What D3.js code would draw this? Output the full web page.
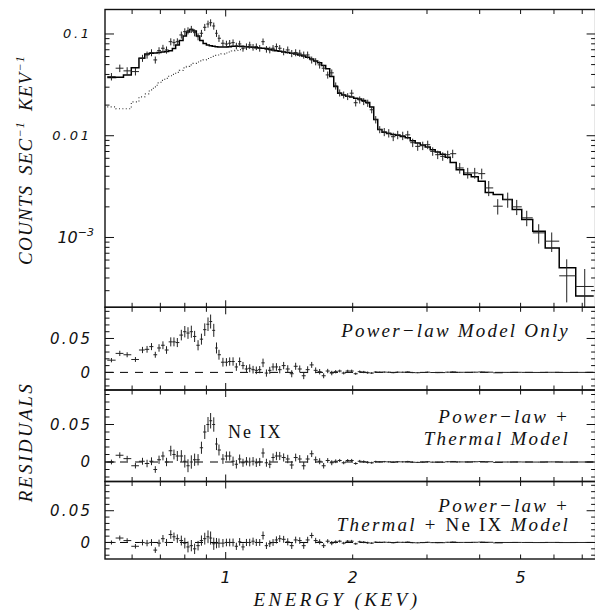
<!DOCTYPE html>
<html>
<head>
<meta charset="utf-8">
<script src="https://cdn.jsdelivr.net/npm/d3@7"></script>
<style>
  html, body { margin: 0; padding: 0; background: #fff; }
  svg { display: block; }
</style>
</head>
<body>
<svg id="chart" width="595" height="610"></svg>
<script>
// ---- spectrum: bin centre energies (keV) ----
const energy = [
  0.536,0.561,0.584,0.611,0.635,0.651,0.667,0.681,0.695,0.710,
  0.724,0.741,0.754,0.768,0.785,0.800,0.814,0.829,0.844,0.860,
  0.876,0.892,0.908,0.921,0.937,0.951,0.964,0.985,1.004,1.022,
  1.041,1.060,1.079,1.099,1.120,1.140,1.161,1.182,1.204,1.226,
  1.249,1.272,1.295,1.319,1.343,1.372,1.403,1.434,1.465,1.498,
  1.531,1.564,1.599,1.634,1.670,1.707,1.745,1.784,1.823,1.863,
  1.904,1.946,1.989,2.033,2.078,2.124,2.171,2.219,2.268,2.318,
  2.376,2.435,2.495,2.557,2.628,2.701,2.775,2.852,2.931,3.012,
  3.095,3.181,3.269,3.359,3.452,3.587,3.747,3.893,4.045,4.202,
  4.414,4.661,4.896,5.171,5.520,5.926,6.432,7.096
];

// observed count rate (counts s^-1 keV^-1)
const counts = [
  0.0381,0.0461,0.0434,0.0427,0.0578,0.0622,0.0656,0.0556,0.0686,0.0724,
  0.0697,0.0840,0.0822,0.0840,0.0978,0.1053,0.1077,0.1112,0.1030,0.0941,
  0.1016,0.1163,0.1253,0.1291,0.1198,0.1016,0.0908,0.0811,0.0798,0.0811,
  0.0822,0.0763,0.0798,0.0724,0.0751,0.0780,0.0741,0.0751,0.0724,0.0840,
  0.0708,0.0697,0.0724,0.0751,0.0724,0.0671,0.0697,0.0644,0.0656,0.0647,
  0.0622,0.0622,0.0556,0.0535,0.0497,0.0461,0.0396,0.0415,0.0309,0.0264,
  0.0252,0.0243,0.0262,0.0211,0.0225,0.0217,0.0209,0.0180,0.0144,0.0115,
  0.0109,0.0106,0.00978,0.0102,0.0100,0.0102,0.00854,0.00786,0.00798,0.00816,
  0.00702,0.00651,0.00627,0.00651,0.00666,0.00482,0.00431,0.00431,0.00424,0.00307,
  0.00203,0.00236,0.00200,0.00156,0.00111,0.00092,0.00042,0.00033
];

// 1-sigma errors on the count rate
const countErr = [
  0.0032,0.0039,0.0037,0.0036,0.0046,0.0050,0.0052,0.0044,0.0055,0.0058,
  0.0056,0.0067,0.0066,0.0067,0.0078,0.0084,0.0086,0.0089,0.0082,0.0075,
  0.0081,0.0093,0.0100,0.0103,0.0096,0.0081,0.0073,0.0065,0.0060,0.0061,
  0.0062,0.0057,0.0060,0.0054,0.0056,0.0059,0.0056,0.0056,0.0054,0.0063,
  0.0053,0.0052,0.0054,0.0056,0.0054,0.0054,0.0056,0.0052,0.0052,0.0052,
  0.0050,0.0050,0.0044,0.0043,0.0040,0.0037,0.0032,0.0033,0.0025,0.0021,
  0.0020,0.0019,0.0021,0.0017,0.0018,0.0017,0.0017,0.0014,0.0012,0.00092,
  0.0010,0.0010,0.00093,0.00097,0.00095,0.00097,0.00081,0.00075,0.00076,0.00078,
  0.00067,0.00062,0.00060,0.00062,0.00063,0.00058,0.00052,0.00052,0.00051,0.00052,
  0.00035,0.00040,0.00034,0.00027,0.00024,0.00020,0.00019,0.00016
];

// folded power-law + thermal model, per bin
const modelThermal = [
  0.0373,0.0375,0.0396,0.0467,0.0578,0.0637,0.0647,0.0651,0.0659,0.0666,
  0.0671,0.0686,0.0721,0.0780,0.0864,0.0956,0.1046,0.1107,0.1070,0.0956,
  0.0864,0.0807,0.0780,0.0768,0.0758,0.0751,0.0746,0.0746,0.0746,0.0751,
  0.0758,0.0758,0.0758,0.0754,0.0751,0.0746,0.0741,0.0734,0.0729,0.0724,
  0.0718,0.0708,0.0697,0.0686,0.0677,0.0666,0.0656,0.0647,0.0637,0.0622,
  0.0609,0.0591,0.0569,0.0544,0.0520,0.0489,0.0454,0.0381,0.0304,0.0262,
  0.0251,0.0245,0.0240,0.0234,0.0229,0.0222,0.0212,0.0192,0.0144,0.0115,
  0.0108,0.0105,0.0103,0.0101,0.00984,0.00956,0.00893,0.00848,0.00811,0.00775,
  0.00729,0.00692,0.00656,0.00613,0.00547,0.00464,0.00415,0.00396,0.00356,0.00276,
  0.00264,0.00236,0.00188,0.00150,0.00115,0.00079,0.000505,0.000266
];

// power-law component alone (low-energy bins, where it departs from the full model)
const modelPowerLaw = [
  0.0192,0.0184,0.0184,0.0215,0.0241,0.0258,0.0282,0.0302,0.0331,0.0350,
  0.0366,0.0388,0.0401,0.0419,0.0439,0.0464,0.0480,0.0497,0.0514,0.0531,
  0.0544,0.0556,0.0575,0.0588,0.0602,0.0616,0.0622,0.0637,0.0651,0.0666,
  0.0681,0.0692,0.0702,0.0713,0.0721,0.0726,0.0729,0.0732
];

// residuals (data - model) for the three fits
const resPowerLaw = [
  0.018,0.028,0.026,0.019,0.033,0.034,0.038,0.026,0.036,0.040,
  0.033,0.045,0.045,0.044,0.055,0.060,0.058,0.060,0.053,0.040,
  0.049,0.063,0.071,0.075,0.062,0.036,0.026,0.015,0.015,0.016,
  0.016,0.008,0.016,0.010,0.005,0.006,0.004,0.003,0.004,0.014,
  -0.001,0.003,0.008,0.008,0.004,0.010,0.005,-0.002,0.009,0.005,
  -0.005,0.004,0.011,0.003,0.001,-0.005,0.002,-0.001,0.001,0.002,
  -0.001,0.002,0.002,-0.002,0.001,0.0005,-0.0005,-0.001,0.0005,0.0003,
  0.0004,0.0002,-0.0004,0.0003,0.0002,0.0006,-0.0003,-0.0005,-0.0002,0.0003,
  -0.0002,-0.0004,-0.0003,0.0003,0.0007,0.0001,0.0001,0.0003,0.0006,0.0003,
  -0.0006,0.0000,0.0001,0.0000,-0.0001,0.0001,-0.0001,0.0000
];
const resThermal = [
  0.000,0.009,0.0045,-0.005,0.001,-0.002,0.001,-0.010,0.003,0.008,
  0.000,0.015,0.010,0.008,0.008,0.001,-0.005,0.000,0.003,0.003,
  0.019,0.040,0.050,0.055,0.050,0.024,0.016,0.004,0.008,0.008,
  0.001,-0.003,0.004,-0.001,0.001,0.000,0.001,-0.001,0.000,0.012,
  -0.001,-0.003,0.006,0.008,0.008,0.006,0.004,-0.004,0.006,0.004,
  -0.005,0.004,0.011,0.003,0.001,-0.005,0.002,-0.001,0.001,0.002,
  -0.001,0.002,0.002,-0.002,0.001,0.0005,-0.0005,-0.001,0.0005,0.0003,
  0.0004,0.0002,-0.0004,0.0003,0.0002,0.0006,-0.0003,-0.0005,-0.0002,0.0003,
  -0.0002,-0.0004,-0.0003,0.0003,0.0007,0.0001,0.0001,0.0003,0.0006,0.0003,
  -0.0006,0.0000,0.0001,0.0000,-0.0001,0.0001,-0.0001,0.0000
];
const resNeIX = [
  0.000,0.007,0.003,-0.006,0.000,-0.001,0.000,-0.012,-0.001,0.006,
  0.000,0.0125,0.009,0.006,0.003,-0.001,-0.007,-0.005,-0.010,-0.005,
  0.003,0.006,0.009,0.007,-0.002,-0.001,-0.001,-0.001,0.000,0.000,
  0.000,-0.006,0.001,-0.007,0.000,0.000,0.002,0.000,0.000,0.011,
  -0.005,-0.002,0.000,0.004,0.006,0.005,0.001,-0.005,0.004,0.003,
  -0.005,0.004,0.011,0.003,0.001,-0.005,0.002,-0.001,0.001,0.002,
  -0.001,0.002,0.002,-0.002,0.001,0.0005,-0.0005,-0.001,0.0005,0.0003,
  0.0004,0.0002,-0.0004,0.0003,0.0002,0.0006,-0.0003,-0.0005,-0.0002,0.0003,
  -0.0002,-0.0004,-0.0003,0.0003,0.0007,0.0001,0.0001,0.0003,0.0006,0.0003,
  -0.0006,0.0000,0.0001,0.0000,-0.0001,0.0001,-0.0001,0.0000
];

// ---- axis ticks and labels ----
const energyTicks = [1, 2, 5];
const energyTickLabels = ["1", "2", "5"];
const energyMinorTicks = [0.6, 0.7, 0.8, 0.9, 2, 3, 4, 5, 6, 7];
const countTicks = [0.1, 0.01, 0.001];
const countTickLabels = ["0.1", "0.01", "10^−3"];
const residualTicks = [0, 0.05];
const residualTickLabels = ["0", "0.05"];
const residualMinorTicks = [-0.02, -0.01, 0.01, 0.02, 0.03, 0.04, 0.06, 0.07, 0.08, 0.09];

// ---- layout ----
const L = 105, R = 595.6;
const svg = d3.select("#chart");
const x = d3.scaleLog().domain([0.5175, 7.53]).range([L, R]);
const topBox = { top: 9.5, bottom: 307.3 };
const yCounts = d3.scaleLog().domain([2.06e-4, 0.174]).range([topBox.bottom, topBox.top]);

const panels = [
  { top: 307.3, bottom: 390, res: resPowerLaw },
  { top: 390, bottom: 481.5, res: resThermal },
  { top: 481.5, bottom: 559, res: resNeIX }
];
panels.forEach(p => {
  p.y = d3.scaleLinear().domain([-0.026, 0.096]).range([p.bottom, p.top]);
});

// bin edges: geometric midpoints between neighbouring bin centres
const n = energy.length;
const lo = energy.map((e, i) => i === 0 ? e * Math.sqrt(e / energy[1]) : Math.sqrt(energy[i - 1] * e));
const hi = energy.map((e, i) => i === n - 1 ? e * Math.sqrt(e / energy[n - 2]) : Math.sqrt(e * energy[i + 1]));

const defs = svg.append("defs");
function clip(id, top, bottom) {
  defs.append("clipPath").attr("id", id)
    .append("rect").attr("x", L).attr("y", top).attr("width", R - L).attr("height", bottom - top);
  return "url(#" + id + ")";
}

const stepPoints = vals => vals.flatMap((v, i) => [[lo[i], v], [hi[i], v]]);
const stepLine = yScale => d3.line().x(d => x(d[0])).y(d => yScale(d[1]));

// ---- top panel: spectrum ----
const gTop = svg.append("g").attr("clip-path", clip("clipTop", topBox.top, topBox.bottom));

gTop.append("path")
  .attr("d", stepLine(yCounts)(stepPoints(modelPowerLaw)))
  .attr("fill", "none").attr("stroke", "#333").attr("stroke-width", 1.1)
  .attr("stroke-dasharray", "1 2.4");

gTop.append("path")
  .attr("d", stepLine(yCounts)(stepPoints(modelThermal)))
  .attr("fill", "none").attr("stroke", "#000").attr("stroke-width", 1.5);

const crossTop = gTop.append("g").attr("stroke", "#222").attr("stroke-width", 1);
energy.forEach((e, i) => {
  const c = counts[i], s = countErr[i];
  crossTop.append("line").attr("x1", x(lo[i])).attr("x2", x(hi[i]))
    .attr("y1", yCounts(c)).attr("y2", yCounts(c));
  crossTop.append("line").attr("x1", x(e)).attr("x2", x(e))
    .attr("y1", yCounts(c - s)).attr("y2", yCounts(c + s));
});

// ---- residual panels ----
panels.forEach((p, k) => {
  const g = svg.append("g").attr("clip-path", clip("clipRes" + k, p.top, p.bottom));
  g.append("line").attr("x1", L).attr("x2", R).attr("y1", p.y(0)).attr("y2", p.y(0))
    .attr("stroke", "#000").attr("stroke-width", 1).attr("stroke-dasharray", "8 7");
  const gc = g.append("g").attr("stroke", "#222").attr("stroke-width", 1);
  energy.forEach((e, i) => {
    const r = p.res[i], s = countErr[i];
    gc.append("line").attr("x1", x(lo[i])).attr("x2", x(hi[i]))
      .attr("y1", p.y(r)).attr("y2", p.y(r));
    gc.append("line").attr("x1", x(e)).attr("x2", x(e))
      .attr("y1", p.y(r - s)).attr("y2", p.y(r + s));
  });
});

// ---- frames and ticks ----
function frame(top, bottom, yScale, majors, minors) {
  const g = svg.append("g").attr("stroke", "#111").attr("fill", "none");
  g.append("rect").attr("x", L).attr("y", top).attr("width", R - L).attr("height", bottom - top)
    .attr("stroke-width", 1.4);
  const xt = [1].concat(energyMinorTicks.filter(t => t !== 1));
  xt.forEach(t => {
    const len = t === 1 ? 7 : 4.5, xx = x(t);
    g.append("line").attr("x1", xx).attr("x2", xx).attr("y1", top).attr("y2", top + len);
    g.append("line").attr("x1", xx).attr("x2", xx).attr("y1", bottom).attr("y2", bottom - len);
  });
  const yTick = (v, len) => {
    const yy = yScale(v);
    g.append("line").attr("x1", L).attr("x2", L + len).attr("y1", yy).attr("y2", yy);
    g.append("line").attr("x1", R).attr("x2", R - len).attr("y1", yy).attr("y2", yy);
  };
  majors.forEach(v => yTick(v, 9));
  minors.forEach(v => yTick(v, 4.5));
}

const countMinor = [];
[1e-4, 1e-3, 1e-2, 1e-1].forEach(d => {
  for (let m = 2; m <= 9; m++) {
    const v = m * d;
    if (v > yCounts.domain()[0] && v < yCounts.domain()[1]) countMinor.push(v);
  }
});
frame(topBox.top, topBox.bottom, yCounts, countTicks, countMinor);
panels.forEach(p => frame(p.top, p.bottom, p.y, residualTicks, residualMinorTicks));

// ---- tick labels ----
const tickFont = "'DejaVu Sans', 'Liberation Sans', sans-serif";
countTicks.forEach((t, i) => {
  const lab = countTickLabels[i];
  const txt = svg.append("text")
    .attr("font-family", tickFont).attr("font-style", "oblique")
    .attr("text-anchor", "end").attr("fill", "#111");
  if (lab.includes("^")) {
    const [base, exp] = lab.split("^");
    txt.attr("x", 94).attr("y", yCounts(t) + 6).attr("font-size", 16);
    txt.append("tspan").text(base);
    txt.append("tspan").attr("font-size", 11).attr("dy", -7).text(exp);
  } else {
    txt.attr("x", 89 + 2.6).attr("y", yCounts(t) + 4.5)
      .attr("font-size", 13).attr("letter-spacing", 2.6).text(lab);
  }
});

panels.forEach(p => {
  residualTicks.forEach((t, i) => {
    svg.append("text")
      .attr("font-family", tickFont).attr("font-style", "oblique")
      .attr("font-size", 15).attr("letter-spacing", 2.2)
      .attr("text-anchor", "end").attr("fill", "#111")
      .attr("x", 90 + 2.2).attr("y", p.y(t) + 5.3)
      .text(residualTickLabels[i]);
  });
});

energyTicks.forEach((t, i) => {
  svg.append("text")
    .attr("font-family", tickFont).attr("font-style", "oblique")
    .attr("font-size", 16).attr("text-anchor", "middle").attr("fill", "#111")
    .attr("x", x(t)).attr("y", 582.5)
    .text(energyTickLabels[i]);
});

// ---- axis titles ----
const serif = "'Liberation Serif', 'DejaVu Serif', serif";
svg.append("text")
  .attr("font-family", serif).attr("font-style", "italic").attr("font-size", 19)
  .attr("letter-spacing", 3.5).attr("text-anchor", "middle").attr("fill", "#111")
  .attr("x", 337).attr("y", 606)
  .text("ENERGY (KEV)");

const yTitle = svg.append("text")
  .attr("font-family", serif).attr("font-style", "italic").attr("font-size", 19)
  .attr("letter-spacing", 1.2).attr("word-spacing", 4)
  .attr("text-anchor", "middle").attr("fill", "#111")
  .attr("transform", "translate(32,160) rotate(-90)");
yTitle.append("tspan").text("COUNTS SEC");
yTitle.append("tspan").attr("font-size", 12).attr("dy", -8).text("−1");
yTitle.append("tspan").attr("dy", 8).text(" KEV");
yTitle.append("tspan").attr("font-size", 12).attr("dy", -8).text("−1");

svg.append("text")
  .attr("font-family", serif).attr("font-style", "italic").attr("font-size", 19)
  .attr("letter-spacing", 2.5).attr("text-anchor", "middle").attr("fill", "#111")
  .attr("transform", "translate(32,442) rotate(-90)")
  .text("RESIDUALS");

// ---- model annotations ----
function note(xEnd, y, parts) {
  const t = svg.append("text")
    .attr("font-family", serif).attr("font-size", 19).attr("letter-spacing", 2.2)
    .attr("text-anchor", "end").attr("fill", "#111")
    .attr("x", xEnd).attr("y", y);
  parts.forEach(([s, style]) => t.append("tspan").attr("font-style", style).text(s));
}
note(570, 336.5, [["Power−law Model Only", "italic"]]);
note(570, 422.5, [["Power−law +", "italic"]]);
note(570, 445, [["Thermal Model", "italic"]]);
note(570, 512, [["Power−law +", "italic"]]);
note(570, 531, [["Thermal + ", "italic"], ["Ne IX", "normal"], [" Model", "italic"]]);

svg.append("text")
  .attr("font-family", serif).attr("font-size", 18).attr("letter-spacing", 2)
  .attr("fill", "#111").attr("x", 228).attr("y", 438)
  .text("Ne IX");
</script>
</body>
</html>
